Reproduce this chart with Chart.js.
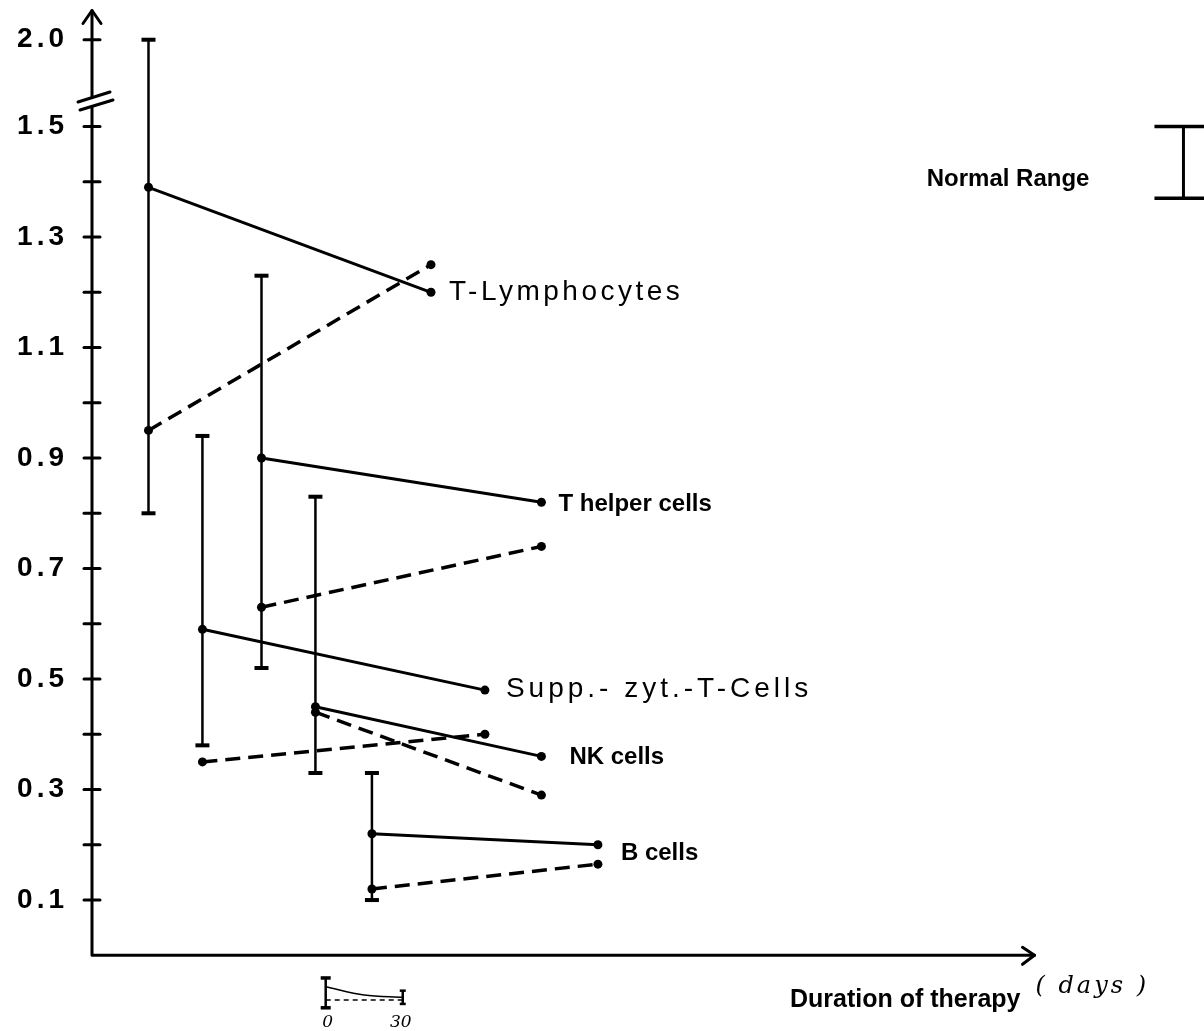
<!DOCTYPE html>
<html>
<head>
<meta charset="utf-8">
<script src="https://cdn.jsdelivr.net/npm/chart.js@4.4.0/dist/chart.umd.min.js"></script>
<style>
  html, body { margin: 0; padding: 0; background: #fff; }
  #wrap { width: 1204px; height: 1031px; }
</style>
</head>
<body>
<div id="wrap"><canvas id="chart"></canvas></div>
<script>
// lymphocyte subsets, each plotted at its own offset along the therapy axis (days)
const cellTypes = ['T-Lymphocytes', 'T helper cells', 'Supp.- zyt.-T-Cells', 'NK cells', 'B cells'];
const startDay = [22, 66, 43, 87, 109];
const endDay = [132, 175, 153, 175, 197];
const solidStart = [1.39, 0.90, 0.59, 0.45, 0.22];
const solidEnd = [1.20, 0.82, 0.48, 0.36, 0.20];
const dashedStart = [0.95, 0.63, 0.35, 0.44, 0.12];
const dashedEnd = [1.25, 0.74, 0.40, 0.29, 0.165];
const rangeLow = [0.80, 0.52, 0.38, 0.33, 0.10];
const rangeHigh = [2.0, 1.23, 0.94, 0.83, 0.33];

// normal range symbol
const normalRangeDay = 425;
const normalRange = [1.37, 1.50];

// scale key under the axis: 0 - 30 days
const keyDays = [91, 106, 121];
const keySolid = [-0.057, -0.072, -0.076];
const keyDashed = [-0.081, -0.081, -0.081];
const keyBar = [-0.095, -0.041];
const keyEndBar = [-0.088, -0.064];
const keyLabels = ['0', '30'];

const yTickValues = [0.1, 0.2, 0.3, 0.4, 0.5, 0.6, 0.7, 0.8, 0.9, 1.0, 1.1, 1.2, 1.3, 1.4, 1.5, 2.0];
const yTickLabels = ['0.1', '', '0.3', '', '0.5', '', '0.7', '', '0.9', '', '1.1', '', '1.3', '', '1.5', '2.0'];

// broken y axis: everything above the break is squeezed
const BREAK_AT = 1.55;
const ax = v => (v <= BREAK_AT ? v : BREAK_AT + (v - BREAK_AT) * 0.238);

const datasets = [];
cellTypes.forEach((name, i) => {
  datasets.push({
    label: name + ' range',
    data: [{ x: startDay[i], y: ax(rangeLow[i]) }, { x: startDay[i], y: ax(rangeHigh[i]) }],
    borderColor: '#000', borderWidth: 2.5,
    pointStyle: 'line', pointRadius: 7, pointBorderWidth: 4, pointBorderColor: '#000'
  });
  datasets.push({
    label: name,
    data: [{ x: startDay[i], y: solidStart[i] }, { x: endDay[i], y: solidEnd[i] }],
    borderColor: '#000', borderWidth: 3,
    pointRadius: 4.5, pointBackgroundColor: '#000', pointBorderWidth: 0
  });
  datasets.push({
    label: name + ' (dashed)',
    data: [{ x: startDay[i], y: dashedStart[i] }, { x: endDay[i], y: dashedEnd[i] }],
    borderColor: '#000', borderWidth: 3.5, borderDash: [15, 8],
    pointRadius: 4.5, pointBackgroundColor: '#000', pointBorderWidth: 0
  });
});

datasets.push({
  label: 'Normal Range',
  data: [{ x: normalRangeDay, y: normalRange[0] }, { x: normalRangeDay, y: normalRange[1] }],
  borderColor: '#000', borderWidth: 3,
  pointStyle: 'line', pointRadius: 29, pointBorderWidth: 3.5, pointBorderColor: '#000'
});

// key
datasets.push({
  data: [{ x: keyDays[0], y: keyBar[0] }, { x: keyDays[0], y: keyBar[1] }],
  borderColor: '#000', borderWidth: 2.5,
  pointStyle: 'line', pointRadius: 5, pointBorderWidth: 3.5, pointBorderColor: '#000'
});
datasets.push({
  data: keyDays.map((d, i) => ({ x: d, y: keySolid[i] })),
  borderColor: '#000', borderWidth: 1.5, cubicInterpolationMode: 'monotone', pointRadius: 0
});
datasets.push({
  data: keyDays.map((d, i) => ({ x: d, y: keyDashed[i] })),
  borderColor: '#000', borderWidth: 1.5, borderDash: [5, 4], pointRadius: 0
});
datasets.push({
  data: [{ x: keyDays[2], y: keyEndBar[0] }, { x: keyDays[2], y: keyEndBar[1] }],
  borderColor: '#000', borderWidth: 2.5,
  pointStyle: 'line', pointRadius: 3, pointBorderWidth: 2.5, pointBorderColor: '#000'
});

// label placement next to the solid end point
const labelDx = [18, 17, 21, 28, 23];
const labelDy = [0, 2, -1, 1, 9];
const labelFont = ['28px "Liberation Sans"', 'bold 24px "Liberation Sans"', '28px "Liberation Sans"',
  'bold 24px "Liberation Sans"', 'bold 24px "Liberation Sans"'];
const labelSpacing = ['3.5px', '0px', '4px', '0px', '0px'];

const X_AXIS_END = 367;
const Y_AXIS_TOP = 1.71;

const handDrawn = {
  id: 'handDrawn',
  beforeDraw(chart) {
    chart.ctx.letterSpacing = '4px';
  },
  beforeDatasetsDraw(chart) {
    const ctx = chart.ctx, xs = chart.scales.x, ys = chart.scales.y;
    ctx.letterSpacing = '0px';
    const x0 = xs.getPixelForValue(0), y0 = ys.getPixelForValue(0);
    const xe = xs.getPixelForValue(X_AXIS_END), yt = ys.getPixelForValue(Y_AXIS_TOP);
    ctx.save();
    ctx.strokeStyle = '#000';
    ctx.lineCap = 'round';
    ctx.lineJoin = 'round';
    ctx.lineWidth = 3;
    ctx.beginPath();
    ctx.moveTo(x0, yt);
    ctx.lineTo(x0, y0);
    ctx.lineTo(xe, y0);
    ctx.stroke();
    // arrow heads
    ctx.beginPath();
    ctx.moveTo(x0 - 9, yt + 13); ctx.lineTo(x0, yt); ctx.lineTo(x0 + 9, yt + 13);
    ctx.moveTo(xe - 12, y0 - 8); ctx.lineTo(xe, y0); ctx.lineTo(xe - 12, y0 + 9);
    ctx.stroke();
    // tick crosses
    yTickValues.forEach(v => {
      const py = ys.getPixelForValue(ax(v));
      ctx.beginPath();
      ctx.moveTo(x0 - 8, py); ctx.lineTo(x0 + 8, py);
      ctx.stroke();
    });
    // axis break
    const yb = ys.getPixelForValue(1.548);
    ctx.fillStyle = '#fff';
    ctx.beginPath();
    ctx.moveTo(x0 - 14, yb + 2); ctx.lineTo(x0 + 18, yb - 8);
    ctx.lineTo(x0 + 21, yb); ctx.lineTo(x0 - 12, yb + 10);
    ctx.closePath();
    ctx.fill();
    ctx.beginPath();
    ctx.moveTo(x0 - 14, yb + 2); ctx.lineTo(x0 + 18, yb - 8);
    ctx.moveTo(x0 - 12, yb + 10); ctx.lineTo(x0 + 21, yb);
    ctx.stroke();
    ctx.restore();
  },
  afterDatasetsDraw(chart) {
    const ctx = chart.ctx, xs = chart.scales.x, ys = chart.scales.y;
    ctx.save();
    ctx.fillStyle = '#000';
    ctx.textBaseline = 'middle';
    ctx.textAlign = 'left';
    cellTypes.forEach((name, i) => {
      ctx.font = labelFont[i];
      ctx.letterSpacing = labelSpacing[i];
      ctx.fillText(name, xs.getPixelForValue(endDay[i]) + labelDx[i], ys.getPixelForValue(solidEnd[i]) + labelDy[i]);
    });
    ctx.letterSpacing = '0px';
    // normal range caption
    const nx = xs.getPixelForValue(normalRangeDay);
    const ny = ys.getPixelForValue((normalRange[0] + normalRange[1]) / 2);
    ctx.font = 'bold 24px "Liberation Sans"';
    ctx.textAlign = 'right';
    ctx.fillText('Normal Range', nx - 94, ny + 17);
    // x axis title
    const xe = xs.getPixelForValue(X_AXIS_END), y0 = ys.getPixelForValue(0);
    ctx.font = 'bold 25px "Liberation Sans"';
    ctx.fillText('Duration of therapy', xe - 14, y0 + 45);
    ctx.textAlign = 'left';
    ctx.font = 'italic 24px "DejaVu Serif"';
    ctx.letterSpacing = '3px';
    ctx.fillText('( days )', xe + 1, y0 + 31);
    // key labels
    ctx.letterSpacing = '0px';
    ctx.textAlign = 'center';
    ctx.font = 'italic 17px "DejaVu Serif"';
    ctx.fillText(keyLabels[0], xs.getPixelForValue(keyDays[0]) + 2, ys.getPixelForValue(-0.121));
    ctx.fillText(keyLabels[1], xs.getPixelForValue(keyDays[2]) - 2, ys.getPixelForValue(-0.121));
    ctx.restore();
  }
};

new Chart(document.getElementById('chart'), {
  type: 'line',
  data: { datasets },
  options: {
    responsive: true,
    maintainAspectRatio: false,
    animation: false,
    layout: { padding: 0, autoPadding: false },
    plugins: { legend: { display: false }, tooltip: { enabled: false } },
    scales: {
      x: {
        type: 'linear', min: 0, max: 433, display: false
      },
      y: {
        type: 'linear', min: -0.137, max: 1.729,
        grid: { display: false, drawTicks: false },
        border: { display: false },
        afterBuildTicks: scale => {
          scale.ticks = yTickValues.map(v => ({ value: ax(v) }));
        },
        afterFit: scale => {
          scale.width = 92;
          scale.paddingTop = 0;
          scale.paddingBottom = 0;
        },
        ticks: {
          autoSkip: false,
          padding: 24,
          color: '#000',
          font: { family: '"Liberation Sans"', size: 28, weight: 'bold' },
          callback: (value, index) => yTickLabels[index]
        }
      }
    }
  },
  plugins: [handDrawn]
});
</script>
</body>
</html>
